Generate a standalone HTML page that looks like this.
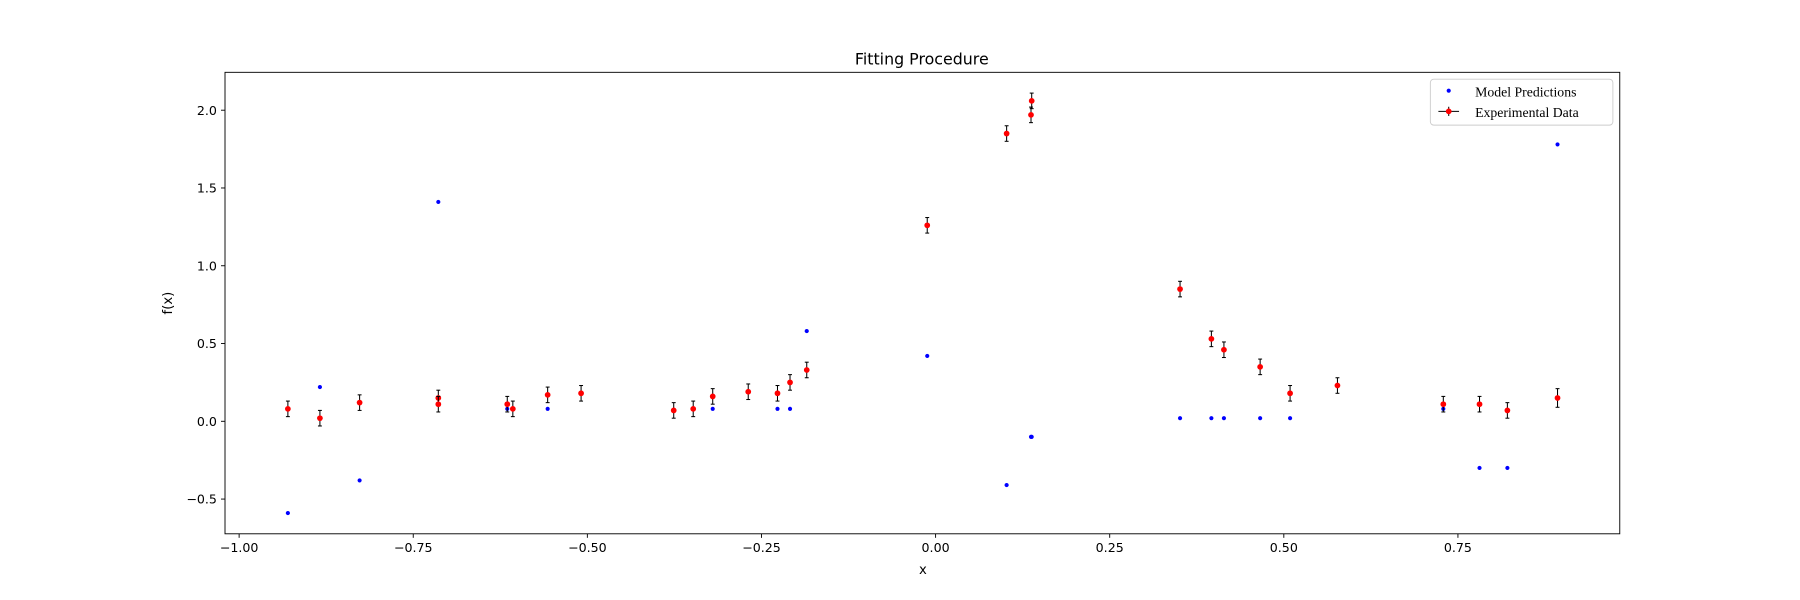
<!DOCTYPE html>
<html><head><meta charset="utf-8"><style>
html,body{margin:0;padding:0;background:#fff;width:1800px;height:600px;overflow:hidden}
text{font-family:"DejaVu Sans","Liberation Sans",sans-serif;fill:#000}
</style></head><body>
<svg id="chart" width="1800" height="600" viewBox="0 0 1568 522.67" xmlns="http://www.w3.org/2000/svg"></svg>
<script>
const xs=[-0.930,-0.884,-0.827,-0.714,-0.714,-0.615,-0.607,-0.557,-0.509,-0.376,-0.348,-0.320,-0.269,-0.227,-0.209,-0.185,-0.012,0.102,0.137,0.138,0.351,0.396,0.414,0.466,0.509,0.577,0.729,0.781,0.821,0.893];
const expY=[0.08,0.02,0.12,0.15,0.11,0.11,0.08,0.17,0.18,0.07,0.08,0.16,0.19,0.18,0.25,0.33,1.26,1.85,1.97,2.06,0.85,0.53,0.46,0.35,0.18,0.23,0.11,0.11,0.07,0.15];
const expErr=[0.05,0.05,0.05,0.05,0.05,0.05,0.05,0.05,0.05,0.05,0.05,0.05,0.05,0.05,0.05,0.05,0.05,0.05,0.05,0.05,0.05,0.05,0.05,0.05,0.05,0.05,0.05,0.05,0.05,0.06];
const modelY=[-0.59,0.22,-0.38,1.41,0.11,0.08,0.08,0.08,0.18,0.07,0.08,0.08,0.19,0.08,0.08,0.58,0.42,-0.41,-0.10,-0.10,0.02,0.02,0.02,0.02,0.02,0.23,0.08,-0.30,-0.30,1.78];
const xTicks=[-1.00,-0.75,-0.50,-0.25,0.00,0.25,0.50,0.75];
const yTicks=[-0.5,0.0,0.5,1.0,1.5,2.0];
const L=196,R=1411,T=63,B=465;
const X=v=>815+v*606.7, Y=v=>367-v*135.5;
const svg=document.getElementById('chart');const NS='http://www.w3.org/2000/svg';
function el(t,a,p){const e=document.createElementNS(NS,t);for(const k in a)e.setAttribute(k,a[k]);(p||svg).appendChild(e);return e;}
function tx(x,y,s,a){const e=el('text',Object.assign({x:x,y:y},a||{}));e.textContent=s;return e;}
let t=tx(803,56,'Fitting Procedure',{'font-size':'13.8','text-anchor':'middle'});


xTicks.forEach(v=>{const g=el('g',{});


el('line',{x1:X(v),x2:X(v),y1:B,y2:B+3.5,stroke:'#000','stroke-width':0.8},g);
const e=tx(X(v),B+16,v.toFixed(2).replace('-','−'),{'font-size':'11','text-anchor':'middle'});g.appendChild(e);});
yTicks.forEach(v=>{const g=el('g',{});


el('line',{x1:L-3.5,x2:L,y1:Y(v),y2:Y(v),stroke:'#000','stroke-width':0.8},g);
const e=tx(L-7,Y(v)+4,v.toFixed(1).replace('-','−'),{'font-size':'11','text-anchor':'end'});g.appendChild(e);});
t=tx(804,500,'x',{'font-size':'11.5','text-anchor':'middle'});


t=tx(150,264,'f(x)',{'font-size':'11.5','text-anchor':'middle',transform:'rotate(-90 150 264)'});


xs.forEach((x,i)=>{const c=el('circle',{cx:X(x),cy:Y(modelY[i]),r:1.8,fill:'#0000ff'});

});
xs.forEach((x,i)=>{const g=el('g',{});


const cx=X(x),y1=Y(expY[i]-expErr[i]),y2=Y(expY[i]+expErr[i]);
el('line',{x1:cx,x2:cx,y1:y1,y2:y2,stroke:'#000','stroke-width':0.9},g);
el('line',{x1:cx-1.7,x2:cx+1.7,y1:y1,y2:y1,stroke:'#000','stroke-width':0.9},g);
el('line',{x1:cx-1.7,x2:cx+1.7,y1:y2,y2:y2,stroke:'#000','stroke-width':0.9},g);
el('circle',{cx:cx,cy:Y(expY[i]),r:2.5,fill:'#ff0000'},g);});
t=el('rect',{x:L,y:T,width:R-L,height:B-T,fill:'none',stroke:'#000','stroke-width':0.8});


const lg=el('g',{});


el('rect',{x:1246,y:69,width:159,height:40,rx:3,fill:'#fff',stroke:'#ccc','stroke-width':0.8},lg);
el('circle',{cx:1262,cy:79,r:1.8,fill:'#0000ff'},lg);
let e=tx(1285,84,'Model Predictions',{'font-size':'12',style:'font-family:"Liberation Serif","DejaVu Serif",serif'});lg.appendChild(e);
el('line',{x1:1253,x2:1271,y1:97,y2:97,stroke:'#000','stroke-width':0.9},lg);
el('line',{x1:1262,x2:1262,y1:93,y2:101,stroke:'#000','stroke-width':0.9},lg);
el('circle',{cx:1262,cy:97,r:2.5,fill:'#ff0000'},lg);
e=tx(1285,102,'Experimental Data',{'font-size':'12',style:'font-family:"Liberation Serif","DejaVu Serif",serif'});lg.appendChild(e);
</script>
</body></html>
